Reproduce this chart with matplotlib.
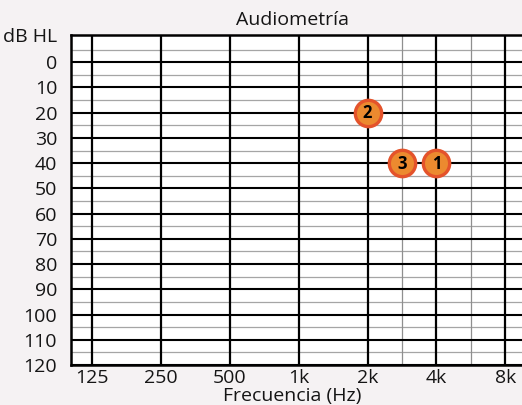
import matplotlib.pyplot as plt

frecuencias = [125, 250, 500, 1000, 2000, 4000, 8000]
etiquetas_x = ["125", "250", "500", "1k", "2k", "4k", "8k"]
frec_intermedias = [2830, 5660]
niveles_db = list(range(0, 121, 10))
niveles_medios = list(range(-5, 121, 10))

puntos_frec = [4000, 2000, 2830]
puntos_db = [40, 20, 40]
puntos_num = ["1", "2", "3"]

fondo = "#f5f2f3"
plt.rcParams["font.family"] = ["Open Sans", "DejaVu Sans"]

fig = plt.figure(figsize=(5.22, 4.05), dpi=100, facecolor=fondo)
ax = fig.add_axes([71 / 522, 40 / 405, 462 / 522, 330.5 / 405])
ax.set_facecolor("white")

ax.set_xscale("log", base=2)
ax.set_xlim(125 * 2 ** -0.30, 8000 * 2 ** 0.40)
ax.set_ylim(120, -11)

# rejilla
for y in niveles_medios:
    ax.axhline(y, color="#a5a5a5", lw=0.9, zorder=1)
for y in niveles_db:
    ax.axhline(y, color="black", lw=1.5, zorder=2)
for f in frec_intermedias:
    ax.axvline(f, color="#8f8f8f", lw=0.9, zorder=1)
for f in frecuencias:
    ax.axvline(f, color="black", lw=1.6, zorder=2)

for s in ax.spines.values():
    s.set_linewidth(1.8)
    s.set_color("black")

ax.set_xticks(frecuencias)
ax.set_xticklabels(etiquetas_x)
ax.set_xticks([], minor=True)
ax.set_yticks(niveles_db)
ax.set_yticklabels([str(v) for v in niveles_db])
ax.tick_params(length=0, labelsize=14, colors="#151515")
ax.tick_params(axis="y", pad=10)
ax.tick_params(axis="x", pad=3)

ax.text(-14 / 462, -10, "dB HL", transform=ax.get_yaxis_transform(),
        ha="right", va="center", fontsize=14, color="#151515")

# puntos
ax.scatter(puntos_frec, puntos_db, s=360, facecolor="#ec8a2f",
           edgecolor="#e4532b", linewidth=2.4, zorder=5, clip_on=False)
for f, d, n in zip(puntos_frec, puntos_db, puntos_num):
    ax.text(f, d + 0.3, n, ha="center", va="center", fontsize=12,
            fontweight="bold", color="black", zorder=6)

fig.text(292 / 522, 1 - 20 / 405, "Audiometría", ha="center", va="center",
         fontsize=14, color="#151515")
fig.text(292 / 522, 1 - 396 / 405, "Frecuencia (Hz)", ha="center", va="center",
         fontsize=14, color="#151515")

fig.savefig("out.png", dpi=100, facecolor=fondo)
